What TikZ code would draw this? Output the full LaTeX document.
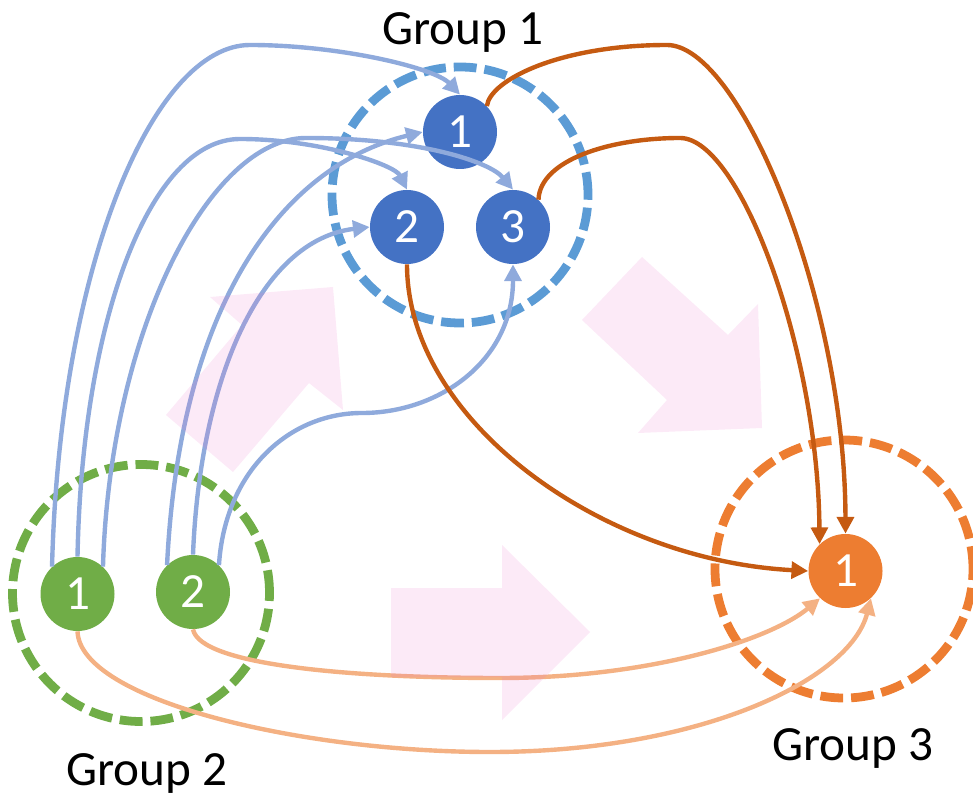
\documentclass[tikz,border=0pt]{standalone}
\usepackage{fontspec}
\setmainfont{Carlito}
\usetikzlibrary{arrows.meta}
\definecolor{blueb}{HTML}{4472C4}
\definecolor{blueg}{HTML}{5B9BD5}
\definecolor{greeng}{HTML}{70AD47}
\definecolor{orangeo}{HTML}{ED7D31}
\definecolor{oranger}{HTML}{C55A11}
\definecolor{bluel}{HTML}{8FAADC}
\definecolor{orangel}{HTML}{F4B183}
\definecolor{pinkp}{RGB}{233,113,200}
\tikzset{
    nodeb/.style = {circle, fill=blueb, minimum size=1.48cm, inner sep=0pt, font=\fontsize{28}{30}\selectfont, text=white},
    nodeg/.style = {circle, fill=greeng, minimum size=1.48cm, inner sep=0pt, font=\fontsize{28}{30}\selectfont, text=white},
    nodeo/.style = {circle, fill=orangeo, minimum size=1.48cm, inner sep=0pt, font=\fontsize{28}{30}\selectfont, text=white},
    groupb/.style = {circle, line width=5pt, draw=blueg, dash pattern=on 13pt off 4.5pt, minimum size=5.12cm},
    groupg/.style = {circle, line width=5pt, draw=greeng, dash pattern=on 13pt off 4.5pt, minimum size=5.14cm},
    groupo/.style = {circle, line width=5pt, draw=orangeo, dash pattern=on 13pt off 4.5pt, minimum size=5.16cm},
    grouplabel/.style = {anchor=base, inner sep=0pt, font=\fontsize{28}{30}\selectfont, text=black},
    edgeb/.style = {-{Triangle[length=9.5pt,width=9.5pt]}, line width=2.5pt, bluel},
    edger/.style = {-{Triangle[length=9.5pt,width=9.5pt]}, line width=2.5pt, oranger},
    edgeo/.style = {-{Triangle[length=9.5pt,width=9.5pt]}, line width=2.5pt, orangel},
    bgarrow/.style = {fill=pinkp, fill opacity=0.15, draw=none}
}

\begin{document}
\begin{tikzpicture}[scale=1.00,transform shape]
\useasboundingbox (0,0) rectangle (19.46,15.90);
% dashed groups
\node[groupb] at (9.20, 12.00) (grp1) {};
\node[groupg] at (2.82, 4.04) (grp2) {};
\node[groupo] at (16.88, 4.52) (grp3) {};
\node[grouplabel] at (9.26, 15.00) (lab1) {Group 1};
\node[grouplabel] at (2.94, 0.20) (lab2) {Group 2};
\node[grouplabel] at (17.06, 0.70) (lab3) {Group 3};
%
\node[nodeb] at (9.20, 13.26) (b1) {1};
\node[nodeb] at (8.14, 11.36) (b2) {2};
\node[nodeb] at (10.26, 11.36) (b3) {3};
\node[nodeg] at (1.55, 4.02) (g1) {1};
\node[nodeg] at (3.86, 4.06) (g2) {2};
\node[nodeo] at (16.91, 4.48) (o1) {1};
%
% group 2 -> group 1
\draw[edgeb] (g1.133) .. controls (1.20, 10.70) and (3.10, 15.00) .. (5.00, 15.00)
    .. controls (6.80, 15.00) and (8.70, 14.54) .. (b1.north);
\draw[edgeb] (g1.north) .. controls (1.64, 9.50) and (3.00, 13.12) .. (4.80, 13.12)
    .. controls (6.40, 13.12) and (7.90, 12.60) .. (b2.north);
\draw[edgeb] (g1.47) .. controls (2.20, 9.30) and (4.20, 13.14) .. (6.12, 13.14)
    .. controls (8.40, 13.14) and (9.80, 12.66) .. (b3.north);
\draw[edgeb] (g2.134) .. controls (3.60, 9.90) and (5.70, 12.60) .. (b1.west);
\draw[edgeb] (g2.north) .. controls (4.00, 8.30) and (5.20, 11.10) .. (b2.west);
\draw[edgeb] (g2.46) .. controls (4.50, 6.50) and (5.80, 7.64) .. (7.24, 7.64)
    .. controls (8.80, 7.64) and (10.26, 8.70) .. (b3.south);
% group 1 -> group 3
\draw[edger] (b1.44) .. controls (9.80, 14.30) and (11.20, 15.00) .. (13.34, 15.00)
    .. controls (14.80, 15.00) and (16.90, 9.90) .. (o1.north);
\draw[edger] (b3.47) .. controls (10.80, 12.70) and (12.20, 13.14) .. (13.60, 13.14)
    .. controls (14.80, 13.14) and (16.36, 8.90) .. (o1.134);
\draw[edger] (b2.south) .. controls (8.14, 7.50) and (12.00, 4.70) .. (o1.west);
% group 2 -> group 3
\draw[edgeo] (g2.south) .. controls (4.00, 2.60) and (7.00, 2.34) .. (10.00, 2.34)
    .. controls (13.00, 2.34) and (15.40, 3.10) .. (o1.227);
\draw[edgeo] (g1.south) .. controls (1.60, 1.90) and (6.00, 0.86) .. (9.80, 0.86)
    .. controls (14.00, 0.86) and (17.00, 2.30) .. (o1.313);
%
% flow arrows
\fill[bgarrow] (3.32, 7.60) -- (4.84, 9.40) -- (4.20, 9.96) -- (6.66, 10.16)
    -- (6.86, 7.70) -- (6.18, 8.24) -- (4.66, 6.46) -- cycle;
\fill[bgarrow] (11.64, 9.50) -- (12.84, 10.76) -- (14.56, 9.20) -- (15.16, 9.82)
    -- (15.24, 7.34) -- (12.76, 7.24) -- (13.34, 7.90) -- cycle;
\fill[bgarrow] (7.82, 4.14) -- (10.04, 4.14) -- (10.04, 5.00) -- (11.80, 3.26)
    -- (10.04, 1.50) -- (10.04, 2.36) -- (7.82, 2.36) -- cycle;
\end{tikzpicture}
\end{document}
